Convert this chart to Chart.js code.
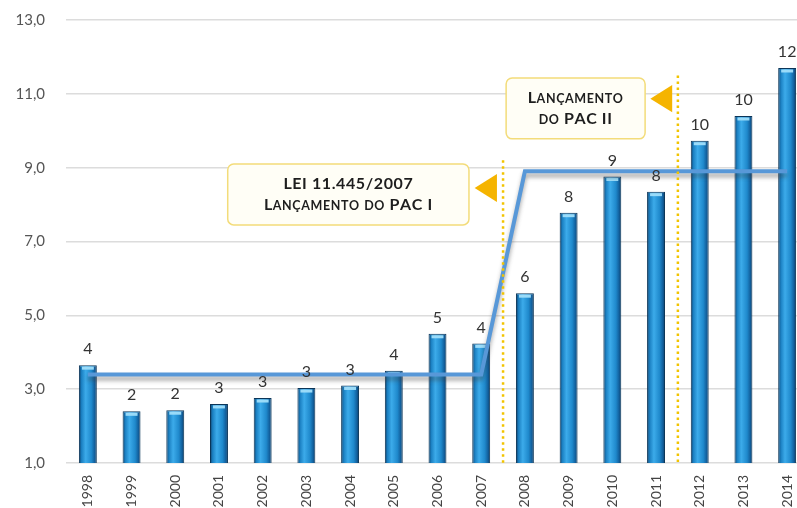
<!DOCTYPE html>
<html>
<head>
<meta charset="utf-8">
<script src="https://cdn.jsdelivr.net/npm/chart.js@4/dist/chart.umd.min.js"></script>
<style>
  html, body { margin: 0; padding: 0; background: #fff; overflow: hidden; }
  #wrap { width: 797px; height: 508px; overflow: hidden; }
  canvas { display: block; margin-top: -10px; }
</style>
</head>
<body>
<div id="wrap"><canvas id="grafico" width="812" height="518"></canvas></div>
<script>
// ── Dados ──────────────────────────────────
const anos         = ["1998","1999","2000","2001","2002","2003","2004","2005","2006",
                      "2007","2008","2009","2010","2011","2012","2013","2014"];
const investimento = [3.65, 2.4, 2.43, 2.6, 2.76, 3.03, 3.1, 3.5, 4.5,
                      4.24, 5.6, 7.78, 8.76, 8.35, 9.73, 10.4, 11.7];
const rotulos      = [4, 2, 2, 3, 3, 3, 3, 4, 5, 4, 6, 8, 9, 8, 10, 10, 12];
const media        = [3.4, 3.4, 3.4, 3.4, 3.4, 3.4, 3.4, 3.4, 3.4, 3.4,
                      8.9, 8.9, 8.9, 8.9, 8.9, 8.9, 8.9];
const yMin = 1, yMax = 13, yPasso = 2;

// marcos (posição no eixo x em índices, topo no eixo y em valores)
const marcos = [
  { pos: 9.5,  topo: 9.2,
    caixa: { x0: 3.2, x1: 8.72, y0: 9.1, y1: 7.45 },
    seta:  { x0: 8.85, x1: 9.36, y: 8.45, meia: 0.38 },
    linhas: ["LEI 11.445/2007", "Lançamento do PAC I"] },
  { pos: 13.5, topo: 11.5,
    caixa: { x0: 9.57, x1: 12.75, y0: 11.43, y1: 9.78 },
    seta:  { x0: 12.87, x1: 13.37, y: 10.87, meia: 0.37 },
    linhas: ["Lançamento", "do PAC II"] },
];

const FONTE = "Lato, 'Open Sans', sans-serif";

// ── Helpers ────────────────────────────────
function fmt(v) { return v.toFixed(1).replace(".", ","); }

function smallCaps(ctx, txt, cx, cy, grande, pequena) {
  const partes = [...txt].map(ch => {
    const baixa = ch !== ch.toUpperCase();
    const tam = baixa ? pequena : grande;
    ctx.font = "bold " + tam + "px " + FONTE;
    const c = ch.toUpperCase();
    return { c, tam, w: ctx.measureText(c).width + 0.6 };
  });
  const total = partes.reduce((s, p) => s + p.w, 0);
  let x = cx - total / 2;
  ctx.textBaseline = "alphabetic";
  ctx.textAlign = "left";
  partes.forEach(p => {
    ctx.font = "bold " + p.tam + "px " + FONTE;
    ctx.fillText(p.c, x, cy);
    x += p.w;
  });
}

// ── Plugin: rótulos, destaques e anotações ─
const extras = {
  id: "extras",
  beforeDatasetDraw(chart, args) {
    if (args.index !== 0) return;
    // sombra da linha de média
    const ctx = chart.ctx;
    ctx.save();
    ctx.shadowColor = "rgba(60,60,60,0.45)";
    ctx.shadowBlur = 4;
    ctx.shadowOffsetY = 4;
  },
  afterDatasetDraw(chart, args) {
    const ctx = chart.ctx;
    if (args.index === 0) { ctx.restore(); return; }
    // brilho no topo das barras
    args.meta.data.forEach(bar => {
      const w = bar.width;
      ctx.save();
      ctx.fillStyle = "rgba(160,222,250,0.95)";
      ctx.fillRect(bar.x - w / 2 + 3, bar.y + 1.5, w - 6, 3);
      ctx.restore();
    });
  },
  afterDatasetsDraw(chart) {
    const { ctx, scales: { x, y } } = chart;
    const barras = chart.getDatasetMeta(1).data;

    // valores acima das barras
    ctx.save();
    ctx.fillStyle = "#333";
    ctx.font = "16px " + FONTE;
    ctx.textAlign = "center";
    ctx.textBaseline = "bottom";
    barras.forEach((b, i) => ctx.fillText(rotulos[i], b.x, b.y - 8));
    ctx.restore();

    marcos.forEach(m => {
      // linha pontilhada
      const px = x.getPixelForValue(m.pos);
      ctx.save();
      ctx.strokeStyle = "#f2c400";
      ctx.lineWidth = 2.5;
      ctx.setLineDash([2.5, 3.5]);
      ctx.beginPath();
      ctx.moveTo(px, y.getPixelForValue(m.topo));
      ctx.lineTo(px, y.getPixelForValue(yMin));
      ctx.stroke();
      ctx.restore();

      // caixa
      const c = m.caixa;
      const bx0 = x.getPixelForValue(c.x0), bx1 = x.getPixelForValue(c.x1);
      const by0 = y.getPixelForValue(c.y0), by1 = y.getPixelForValue(c.y1);
      ctx.save();
      ctx.fillStyle = "#fffef6";
      ctx.strokeStyle = "#f3dc7a";
      ctx.lineWidth = 1.5;
      ctx.beginPath();
      ctx.roundRect(bx0, by0, bx1 - bx0, by1 - by0, 6);
      ctx.fill();
      ctx.stroke();

      ctx.fillStyle = "#1e1e1e";
      const cx = (bx0 + bx1) / 2, cy = (by0 + by1) / 2;
      smallCaps(ctx, m.linhas[0], cx, cy - 5, 16, 12.5);
      smallCaps(ctx, m.linhas[1], cx, cy + 16, 16, 12.5);
      ctx.restore();

      // seta
      const s = m.seta;
      const sx0 = x.getPixelForValue(s.x0), sx1 = x.getPixelForValue(s.x1);
      const sy = y.getPixelForValue(s.y);
      const meia = y.getPixelForValue(s.y - s.meia) - sy;
      ctx.save();
      ctx.fillStyle = "#f5b400";
      ctx.beginPath();
      ctx.moveTo(sx0, sy);
      ctx.lineTo(sx1, sy - meia);
      ctx.lineTo(sx1, sy + meia);
      ctx.closePath();
      ctx.fill();
      ctx.restore();
    });
  },
};

// ── Gradiente das barras ───────────────────
function corBarra(context) {
  const chart = context.chart;
  if (!chart.chartArea) return "#1d86c8";
  const cx = chart.scales.x.getPixelForValue(context.dataIndex);
  const meia = 9;
  const g = chart.ctx.createLinearGradient(cx - meia, 0, cx + meia, 0);
  g.addColorStop(0,    "#0b3d68");
  g.addColorStop(0.15, "#1b80c2");
  g.addColorStop(0.38, "#3cabea");
  g.addColorStop(0.7,  "#1f89cc");
  g.addColorStop(0.88, "#125f9c");
  g.addColorStop(1,    "#0a3a62");
  return g;
}

// ── Gráfico ────────────────────────────────
Chart.defaults.font.family = FONTE;

new Chart(document.getElementById("grafico"), {
  data: {
    labels: anos,
    datasets: [
      {
        type: "line",
        label: "Média",
        data: media,
        borderColor: "#5898d8",
        borderWidth: 4,
        pointRadius: 0,
        tension: 0,
        fill: false,
        order: 0,
      },
      {
        type: "bar",
        label: "Investimento",
        data: investimento,
        backgroundColor: corBarra,
        borderColor: "#0b3558",
        borderWidth: 1,
        barPercentage: 0.41,
        categoryPercentage: 1,
        order: 1,
      },
    ],
  },
  options: {
    responsive: false,
    animation: false,
    devicePixelRatio: 1,
    layout: { padding: { top: 10, right: 3, left: 0, bottom: 0 } },
    plugins: {
      legend:  { display: false },
      tooltip: { enabled: false },
    },
    scales: {
      x: {
        offset: true,
        grid:   { display: false },
        border: { display: false },
        ticks: {
          color: "#444",
          font: { size: 14 },
          minRotation: 90,
          maxRotation: 90,
          padding: 4,
          autoSkip: false,
        },
        afterFit: s => { s.height = 45; },
      },
      y: {
        min: yMin,
        max: yMax,
        border: { display: false },
        grid: { color: "#dcdcdc", lineWidth: 1.5, drawTicks: false },
        ticks: {
          stepSize: yPasso,
          color: "#555",
          font: { size: 15 },
          padding: 21,
          callback: v => fmt(v),
        },
        afterFit: s => { s.width = 66; },
      },
    },
  },
  plugins: [extras],
});
</script>
</body>
</html>
